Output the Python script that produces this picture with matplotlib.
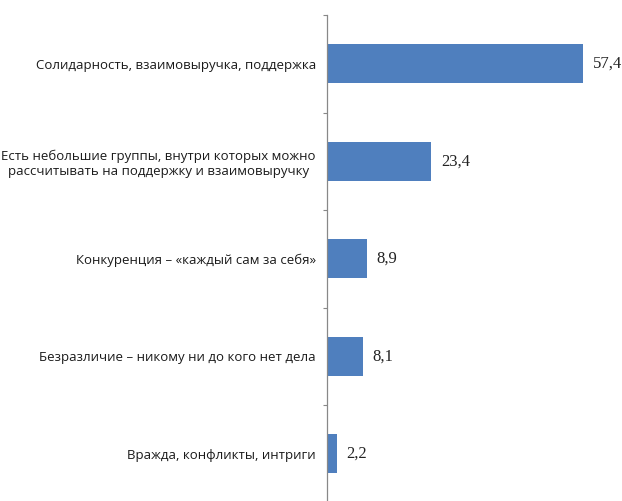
import matplotlib.pyplot as plt

# категории (сверху вниз) и значения, %
categories = [
    "Солидарность, взаимовыручка, поддержка",
    "Есть небольшие группы, внутри которых можно\nрассчитывать на поддержку и взаимовыручку",
    "Конкуренция – «каждый сам за себя»",
    "Безразличие – никому ни до кого нет дела",
    "Вражда, конфликты, интриги",
]
values = [57.4, 23.4, 8.9, 8.1, 2.2]

bar_color = "#4F7FBE"

fig = plt.figure(figsize=(6.22, 5.01), dpi=100)
ax = fig.add_axes([327 / 622, -1.5 / 501, 295 / 622, 487.5 / 501])

pos = list(range(len(categories)))[::-1]
ax.barh(pos, values, height=0.4, color=bar_color)

for p, v in zip(pos, values):
    ax.annotate(f"{v:.1f}".replace(".", ","), (v, p), xytext=(7, 0),
                textcoords="offset points", va="center", ha="left",
                fontsize=12, family="Liberation Serif", color="#222222")

ax.set_xlim(0, 66.2)
ax.set_ylim(-0.5, len(categories) - 0.5)
ax.set_yticks(pos)
labels = ax.set_yticklabels(categories, fontsize=9.5, family="Open Sans",
                            color="#1a1a1a", linespacing=1.25)
for lab in labels:
    lab.set_multialignment("center")
ax.set_yticks([p + 0.5 for p in range(len(categories))] + [-0.5], minor=True)
ax.tick_params(axis="y", which="major", length=0, pad=8)
ax.tick_params(axis="y", which="minor", length=3, color="#888888", width=0.8)
ax.set_xticks([])

for s in ["top", "right", "bottom"]:
    ax.spines[s].set_visible(False)
ax.spines["left"].set_color("#888888")
ax.spines["left"].set_linewidth(0.9)

fig.savefig("out.png", dpi=100)
